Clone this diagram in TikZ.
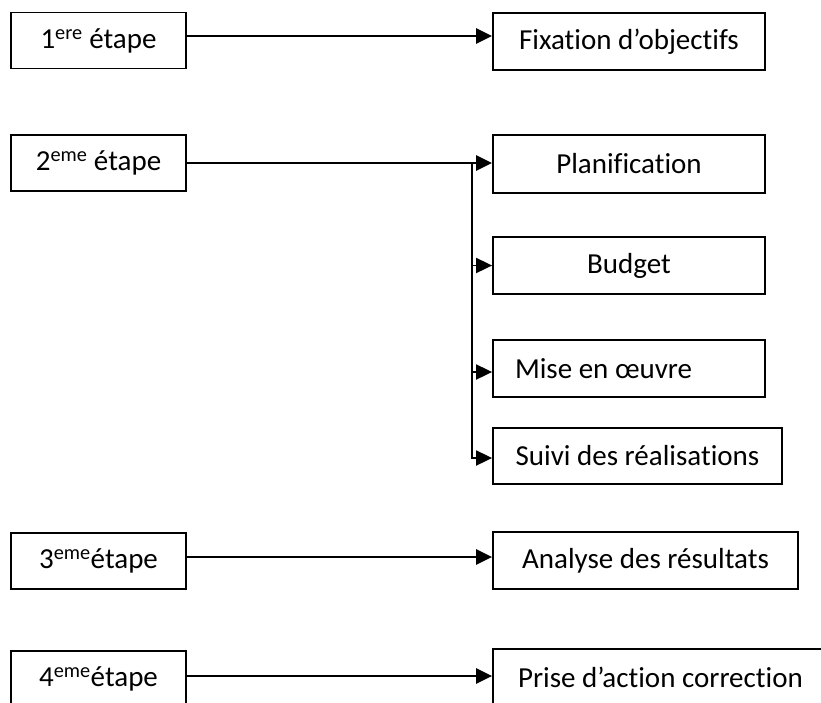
\documentclass[tikz,border=0pt]{standalone}
\usepackage{fontspec}
\setmainfont[Ligatures=NoCommon]{Carlito}
\usetikzlibrary{arrows.meta}
\begin{document}
\begin{tikzpicture}[x=1pt,y=-1pt,
  font=\fontsize{29}{34}\selectfont,
  box/.style={draw=black,line width=1.8pt,inner sep=0pt,minimum height=56pt,align=center},
  stepbox/.style={box,minimum width=175pt},
  taskbox/.style={box,minimum width=272pt},
  flow/.style={line width=2.4pt,-{Triangle[length=16pt,width=15pt]}},
  branch/.style={line width=1.6pt}]
\useasboundingbox (0,0) rectangle (821,702);
\clip (0,0) rectangle (821,702);

% stages on the left
\node[stepbox] (s1) at (98.5,40.5) {1\textsuperscript{ere} étape};
\node[stepbox] (s2) at (98.5,163)  {2\textsuperscript{eme} étape};
\node[stepbox] (s3) at (98.5,561)  {3\textsuperscript{eme}étape};
\node[stepbox] (s4) at (98.5,679)  {4\textsuperscript{eme}étape};

% tasks on the right
\node[taskbox,minimum height=57pt] (fix) at (629,41.5) {Fixation d’objectifs};
\node[taskbox,minimum height=58pt] (plan) at (629,164) {Planification};
\node[taskbox,minimum height=57pt] (bud) at (629,265.5) {Budget};
\node[box,inner xsep=22pt,minimum height=57pt] (mise) at (629,368.5)
  {\makebox[228pt][l]{Mise en œuvre}};
\node[box,minimum width=289pt] (suivi) at (637.5,456) {Suivi des réalisations};
\node[box,minimum width=305pt,minimum height=57pt] (ana) at (645.5,560.5) {Analyse des résultats};
\node[box,inner xsep=25pt,minimum height=57pt] (prise) at (664,677.5)
  {\makebox[292pt][l]{Prise d’action correction}};

% heights at which the connectors run
\coordinate (y1) at (0,36);
\coordinate (y3) at (0,557);
\coordinate (y4) at (0,676);
\coordinate (ym) at (0,372);

% connectors
\draw[flow] (s1.east |- y1) -- (fix.west |- y1);
\draw[flow] (s2.east) -- (plan.west |- s2.east);
\coordinate (fork) at (472,163);
\coordinate (forkend) at (472,458);
\draw[branch] (fork) -- (forkend);
\draw[flow,line width=1.8pt,shorten <=-0.8pt] (fork |- bud.west) -- (bud.west);
\draw[flow,line width=1.8pt,shorten <=-0.8pt] (fork |- ym) -- (mise.west |- ym);
\draw[flow,line width=1.8pt,shorten <=-0.8pt] (forkend) -- (suivi.west |- forkend);
\draw[flow] (s3.east |- y3) -- (ana.west |- y3);
\draw[flow] (s4.east |- y4) -- (prise.west |- y4);
\end{tikzpicture}
\end{document}
